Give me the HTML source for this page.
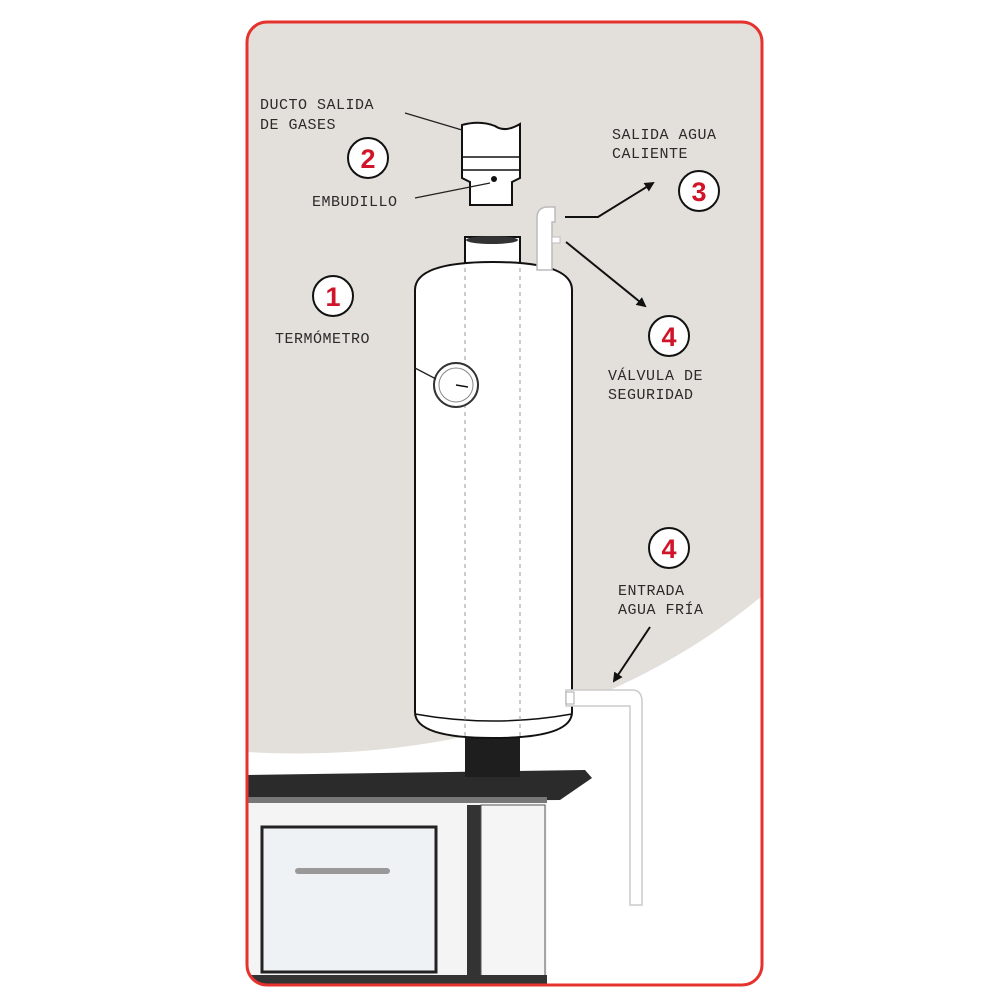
<!DOCTYPE html>
<html><head><meta charset="utf-8"><style>
html,body{margin:0;padding:0;background:#fff;}
svg{display:block}
text{font-family:"Liberation Mono",monospace;font-size:15px;fill:#2a2a2a;letter-spacing:0.5px}
.n{font-family:"Liberation Sans",sans-serif;font-weight:bold;font-size:27px;fill:#d0152a;text-anchor:middle;letter-spacing:0}
</style></head><body>
<svg width="1000" height="1000" viewBox="0 0 1000 1000">
<defs>
<clipPath id="c"><rect x="247" y="22" width="515" height="963" rx="20"/></clipPath>
<marker id="a" markerWidth="10" markerHeight="10" refX="8" refY="5" orient="auto" markerUnits="userSpaceOnUse"><path d="M0,0 L10,5 L0,10 Z" fill="#111"/></marker>
</defs>
<g clip-path="url(#c)">
<rect x="247" y="22" width="515" height="963" fill="#e3e0db"/>
<path d="M247,752 C420,762 610,722 762,596 L762,985 L247,985 Z" fill="#fff"/>
<!-- stove -->
<rect x="247" y="800" width="300" height="185" fill="#f4f4f4"/>
<path d="M247,775 L585,770 L592,778 L560,800 L247,802 Z" fill="#2b2b2b"/>
<rect x="247" y="797" width="300" height="6" fill="#777"/>
<rect x="262" y="827" width="174" height="145" fill="#eef2f4" stroke="#222" stroke-width="3"/>
<rect x="295" y="868" width="95" height="6" rx="3" fill="#999"/>
<rect x="467" y="805" width="14" height="180" fill="#333"/>
<rect x="481" y="805" width="64" height="180" fill="#f5f5f5" stroke="#555" stroke-width="1"/>
<rect x="247" y="975" width="300" height="10" fill="#333"/>
<!-- bottom pipe -->
<rect x="465" y="735" width="55" height="42" fill="#1e1e1e"/>
</g>
<!-- tank -->
<rect x="465" y="237" width="55" height="30" fill="#fff" stroke="#111" stroke-width="2"/>
<ellipse cx="492" cy="240" rx="26" ry="4" fill="#333"/>
<path d="M415,290 Q415,262 493,262 Q572,262 572,290 L572,712 Q572,738 493,738 Q415,738 415,712 Z" fill="#fff" stroke="#111" stroke-width="2"/>
<path d="M415,714 Q493,728 572,714" fill="none" stroke="#111" stroke-width="1.5"/>
<line x1="465" y1="268" x2="465" y2="736" stroke="#999" stroke-dasharray="4,4"/>
<line x1="520" y1="268" x2="520" y2="736" stroke="#999" stroke-dasharray="4,4"/>
<circle cx="456" cy="385" r="22" fill="#fff" stroke="#333" stroke-width="2"/>
<circle cx="456" cy="385" r="17" fill="#fff" stroke="#888" stroke-width="1"/>
<line x1="456" y1="385" x2="468" y2="387" stroke="#111" stroke-width="1.5"/>
<!-- funnel -->
<path d="M462,125 Q480,120 495,126 Q505,133 520,124 L520,178 L512,182 L512,205 L470,205 L470,182 L462,178 Z" fill="#fff" stroke="#111" stroke-width="2"/>
<line x1="462" y1="157" x2="520" y2="157" stroke="#111" stroke-width="1.5"/>
<line x1="462" y1="170" x2="520" y2="170" stroke="#111" stroke-width="1.5"/>
<circle cx="494" cy="179" r="3" fill="#111"/>
<!-- faucet -->
<path d="M537,270 L537,218 Q537,207 548,207 L555,207 L555,222 L552,222 L552,270 Z" fill="#fff" stroke="#bbb" stroke-width="1.5"/>
<rect x="552" y="237" width="8" height="6" fill="#fff" stroke="#bbb"/>
<!-- inlet pipe -->
<path d="M566,690 L632,690 Q642,690 642,702 L642,905 L630,905 L630,706 L566,706 Z" fill="#fff" stroke="#ccc" stroke-width="1.5"/>
<rect x="566" y="692" width="8" height="12" fill="#fff" stroke="#aaa"/>
<!-- border -->
<rect x="247" y="22" width="515" height="963" rx="20" fill="none" stroke="#e5322d" stroke-width="3"/>
<!-- lines/arrows -->
<line x1="405" y1="113" x2="462" y2="130" stroke="#222" stroke-width="1.3"/>
<line x1="415" y1="198" x2="490" y2="183" stroke="#222" stroke-width="1.3"/>
<line x1="415" y1="368" x2="436" y2="379" stroke="#222" stroke-width="1.3"/>
<polyline points="565,217 598,217 653,183" fill="none" stroke="#111" stroke-width="2" marker-end="url(#a)"/>
<line x1="566" y1="242" x2="645" y2="306" stroke="#111" stroke-width="2" marker-end="url(#a)"/>
<line x1="650" y1="627" x2="614" y2="681" stroke="#111" stroke-width="2" marker-end="url(#a)"/>
<!-- labels -->
<text x="260" y="109">DUCTO SALIDA</text>
<text x="260" y="129">DE GASES</text>
<text x="312" y="206">EMBUDILLO</text>
<text x="612" y="139">SALIDA AGUA</text>
<text x="612" y="158">CALIENTE</text>
<text x="275" y="343">TERMÓMETRO</text>
<text x="608" y="380">VÁLVULA DE</text>
<text x="608" y="399">SEGURIDAD</text>
<text x="618" y="595">ENTRADA</text>
<text x="618" y="614">AGUA FRÍA</text>
<g fill="#fff" stroke="#111" stroke-width="2">
<circle cx="368" cy="158" r="20"/><circle cx="699" cy="191" r="20"/>
<circle cx="333" cy="296" r="20"/><circle cx="669" cy="336" r="20"/>
<circle cx="669" cy="548" r="20"/>
</g>
<text class="n" x="368" y="168">2</text>
<text class="n" x="699" y="201">3</text>
<text class="n" x="333" y="306">1</text>
<text class="n" x="669" y="346">4</text>
<text class="n" x="669" y="558">4</text>
</svg>
</body></html>
